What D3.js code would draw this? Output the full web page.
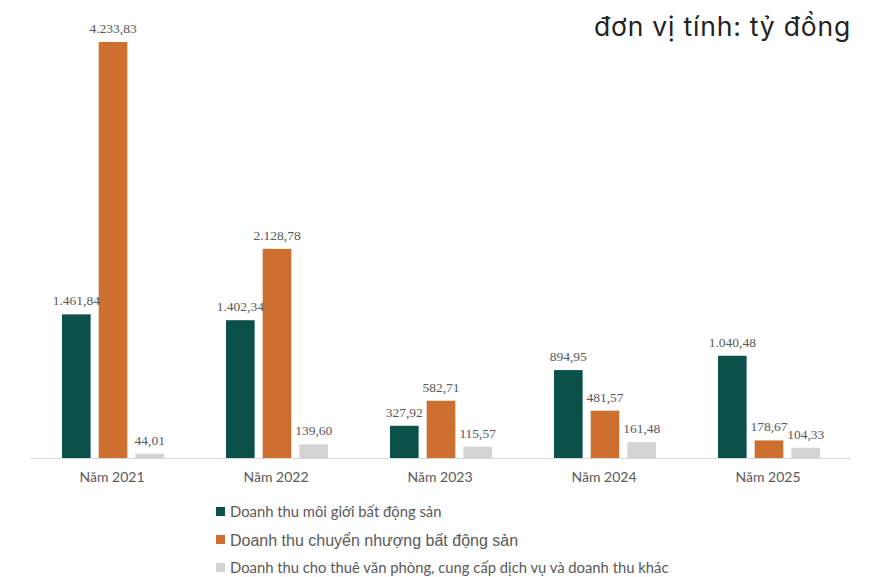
<!DOCTYPE html>
<html>
<head>
<meta charset="utf-8">
<script src="https://cdn.jsdelivr.net/npm/d3@7"></script>
<style>
  body { margin: 0; background: #fff; }
</style>
</head>
<body>
<div id="canvas"></div>
<script>
// Data
const years = ['Năm 2021', 'Năm 2022', 'Năm 2023', 'Năm 2024', 'Năm 2025'];
const seriesNames = [
    'Doanh thu môi giới bất động sản',
    'Doanh thu chuyển nhượng bất động sản',
    'Doanh thu cho thuê văn phòng, cung cấp dịch vụ và doanh thu khác'
];
const brokerage = [1461.84, 1402.34, 327.92, 894.95, 1040.48];
const transfer = [4233.83, 2128.78, 582.71, 481.57, 178.67];
const other = [44.01, 139.60, 115.57, 161.48, 104.33];
const colors = ['#0b5149', '#cd6f2f', '#d4d4d4'];

// Constants
const WIDTH = 887;
const HEIGHT = 577;
const BASE_Y = 458;
const TOP_Y = 42;

const svg = d3.select('#canvas')
    .append('svg').attr('width', WIDTH).attr('height', HEIGHT);

const vn = d3.formatLocale({ decimal: ',', thousands: '.', grouping: [3], currency: ['', ''] });
const fmt = vn.format(',.2f');

const allSeries = [brokerage, transfer, other];

// Scales
const x0 = d3.scaleBand().domain(years).range([30, 850]).padding(0);
const x1 = d3.scaleBand().domain([0, 1, 2]).range([32, 134]).paddingInner(0.22);
const y = d3.scaleLinear().domain([0, d3.max(transfer)]).range([BASE_Y, TOP_Y]);

// Bars
const groups = svg.selectAll('.year')
    .data(years)
    .join('g')
    .attr('class', 'year')
    .attr('transform', d => `translate(${x0(d)},0)`);

groups.selectAll('rect')
    .data((d, i) => allSeries.map((s, k) => ({ k, v: s[i] })))
    .join('rect')
    .attr('x', d => x1(d.k))
    .attr('width', x1.bandwidth())
    .attr('y', d => y(d.v))
    .attr('height', d => BASE_Y - y(d.v))
    .attr('fill', d => colors[d.k]);

groups.selectAll('text.val')
    .data((d, i) => allSeries.map((s, k) => ({ k, v: s[i] })))
    .join('text')
    .attr('class', 'val')
    .attr('x', d => x1(d.k) + x1.bandwidth() / 2)
    .attr('y', d => y(d.v) - 9)
    .attr('text-anchor', 'middle')
    .attr('font-family', '"Liberation Serif", "Times New Roman", serif')
    .attr('font-size', 13.5)
    .attr('fill', '#595959')
    .text(d => fmt(d.v));

// Axis
const xAxis = d3.axisBottom(x0).tickSize(0).tickPadding(14);
svg.append('g')
    .attr('transform', `translate(0,${BASE_Y})`)
    .call(xAxis)
    .call(g => g.select('.domain').attr('stroke', '#d9d9d9'))
    .call(g => g.selectAll('text')
        .attr('font-family', 'Lato, "Open Sans", sans-serif')
        .attr('font-size', 14)
        .attr('fill', '#595959'));

// Legend (middle row uses a different font in the original)
const legendRows = [
    { y: 512, size: 14.8, font: 'Lato, "Open Sans", sans-serif' },
    { y: 540, size: 16, font: '"Liberation Sans", Arial, sans-serif' },
    { y: 568, size: 14.8, font: 'Lato, "Open Sans", sans-serif' }
];
const legend = svg.selectAll('.legend')
    .data(seriesNames)
    .join('g')
    .attr('class', 'legend')
    .attr('transform', (d, i) => `translate(216,${legendRows[i].y})`);
legend.append('rect')
    .attr('x', 0).attr('y', -5)
    .attr('width', 9).attr('height', 9)
    .attr('fill', (d, i) => colors[i]);
legend.append('text')
    .attr('x', 14)
    .attr('dy', '0.35em')
    .attr('font-family', (d, i) => legendRows[i].font)
    .attr('font-size', (d, i) => legendRows[i].size)
    .attr('fill', '#595959')
    .text(d => d);

// Unit title
svg.append('text')
    .attr('x', 851)
    .attr('y', 36)
    .attr('text-anchor', 'end')
    .attr('font-family', 'Inter, "Noto Sans", sans-serif')
    .attr('font-size', 26.5)
    .attr('font-weight', 400)
    .attr('letter-spacing', 0.8)
    .attr('fill', '#222')
    .text('đơn vị tính: tỷ đồng');
</script>
</body>
</html>
